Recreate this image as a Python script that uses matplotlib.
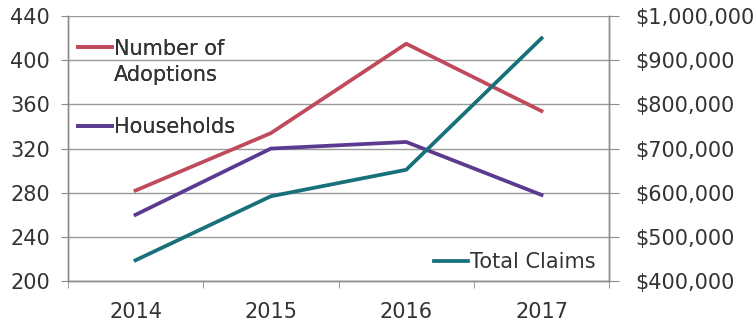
"""
Adoptions, households and total claims by year (2014-2017).
"""

import matplotlib
matplotlib.use("Agg")
import matplotlib.pyplot as plt
from matplotlib.lines import Line2D
from matplotlib.ticker import FuncFormatter

years = ["2014", "2015", "2016", "2017"]
adoptions = [282, 334, 415, 354]
households = [260, 320, 326, 278]
total_claims = [447000, 592000, 652000, 950000]

red = "#c04a5c"
purple = "#5a3b8f"
teal = "#17707a"
grey = "#8c8c8c"
text_color = "#333333"

plt.rcParams["font.family"] = ["DejaVu Sans"]
plt.rcParams["font.size"] = 15

fig = plt.figure(figsize=(7.54, 3.23), dpi=100)
ax = fig.add_axes([0.090, 0.130, 0.718, 0.820])
ax2 = ax.twinx()

x = range(len(years))
ax.plot(x, adoptions, color=red, lw=2.7, zorder=3)
ax.plot(x, households, color=purple, lw=2.7, zorder=3)
ax2.plot(x, total_claims, color=teal, lw=2.7, zorder=3)

# left axis
ax.set_xlim(-0.5, 3.5)
ax.set_ylim(200, 440)
ax.set_yticks(range(200, 441, 40))
ax.set_xticks(list(x))
ax.set_xticklabels(years)
ax.set_xticks([i - 0.5 for i in range(len(years) + 1)], minor=True)
ax.tick_params(axis="x", which="major", length=0, pad=15, colors=text_color)
ax.tick_params(axis="x", which="minor", length=5, color=grey)
ax.tick_params(axis="y", length=5, color=grey, colors=text_color, pad=8)
ax.grid(axis="y", color="#9a9a9a", lw=1)

# right axis
ax2.set_ylim(400000, 1000000)
ax2.set_yticks(range(400000, 1000001, 100000))
ax2.yaxis.set_major_formatter(FuncFormatter(lambda v, p: f"${v:,.0f}"))
ax2.tick_params(axis="y", length=7, color=grey, colors=text_color, pad=12)

for a in (ax, ax2):
    a.spines["top"].set_visible(False)
    for s in ("left", "right", "bottom"):
        a.spines[s].set_color(grey)
        a.spines[s].set_linewidth(1)
    a.tick_params(axis="y", labelcolor=text_color)

# legends
handles = [Line2D([], [], color=red, lw=2.7),
           Line2D([], [], color="none"),
           Line2D([], [], color="none"),
           Line2D([], [], color=purple, lw=2.7)]
labels = ["Number of", "Adoptions", "", "Households"]
leg1 = ax.legend(handles, labels, loc="upper left", bbox_to_anchor=(0.004, 0.947),
                 frameon=False, handlelength=1.6, handletextpad=0.1,
                 labelspacing=0.3, borderaxespad=0, labelcolor=text_color)
ax.add_artist(leg1)
ax2.legend([Line2D([], [], color=teal, lw=2.7)], ["Total Claims"],
           loc="lower right", bbox_to_anchor=(0.99, 0.003), frameon=False,
           handlelength=1.6, handletextpad=0.1, borderaxespad=0,
           labelcolor=text_color)

fig.savefig("out.png", dpi=100)
